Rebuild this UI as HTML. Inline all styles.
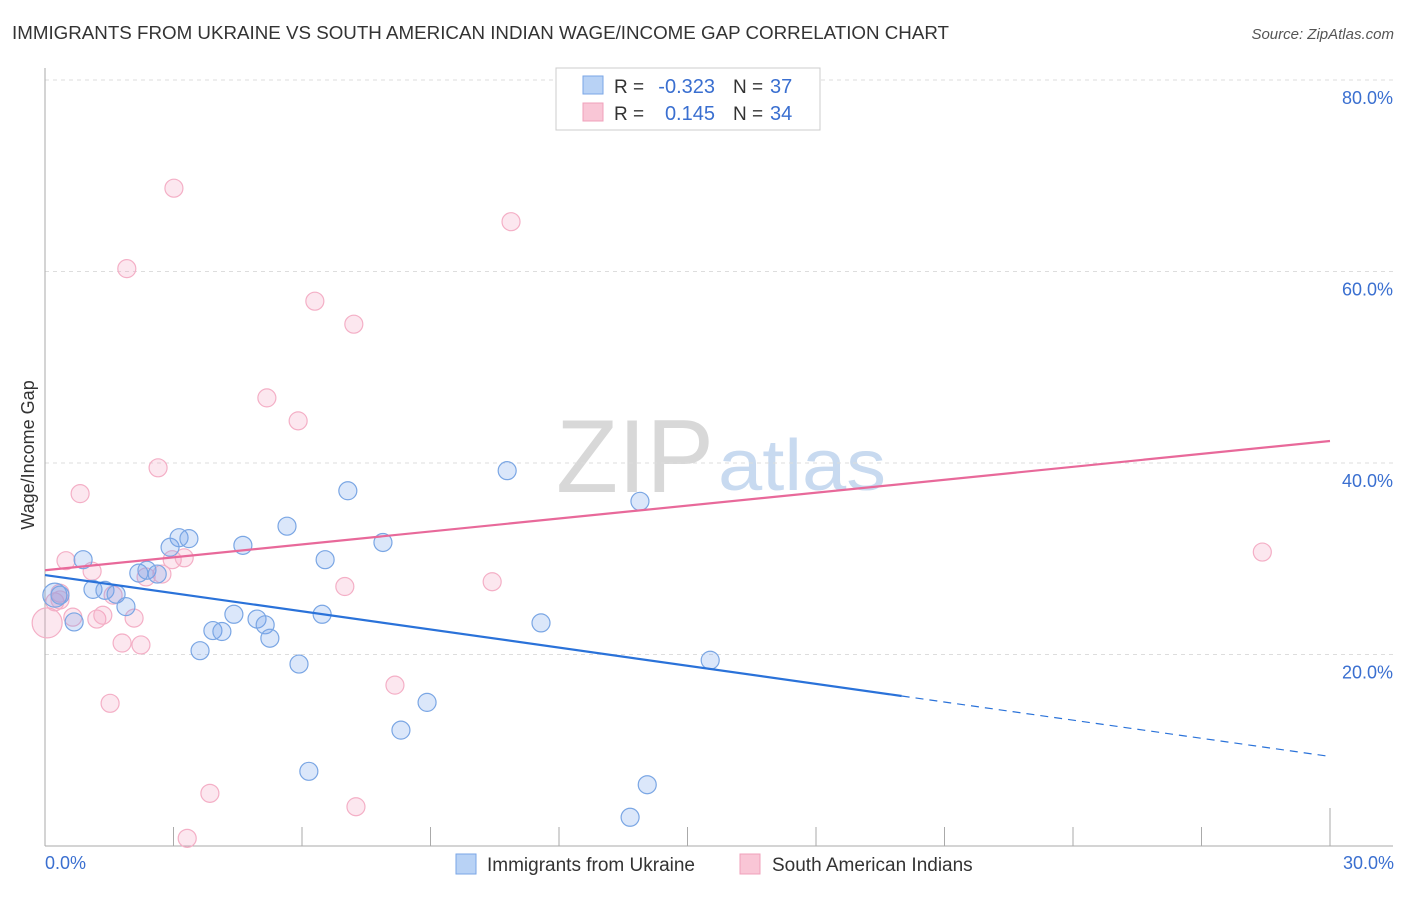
<!DOCTYPE html>
<html><head><meta charset="utf-8"><style>
body{margin:0;background:#fff;font-family:"Liberation Sans",sans-serif;}
svg text{font-family:"Liberation Sans",sans-serif;}
</style></head><body>
<svg width="1406" height="892">
<text x="12" y="39" font-size="18" fill="#333" textLength="937" lengthAdjust="spacingAndGlyphs">IMMIGRANTS FROM UKRAINE VS SOUTH AMERICAN INDIAN WAGE/INCOME GAP CORRELATION CHART</text>
<text x="1394" y="39" font-size="15" fill="#555" text-anchor="end" font-style="italic">Source: ZipAtlas.com</text>
<text x="714" y="492" font-size="104" fill="#d8d8d8" text-anchor="end" font-family="Liberation Serif" textLength="158" lengthAdjust="spacingAndGlyphs">ZIP</text>
<text x="718" y="490" font-size="72" fill="#c8daf0" textLength="168" lengthAdjust="spacingAndGlyphs">atlas</text>
<g id="grid"></g>
<g id="axes"></g>
<g id="marks"></g>
<text transform="translate(34,455) rotate(-90)" font-size="18" fill="#333" text-anchor="middle">Wage/Income Gap</text>
<text x="45" y="869" font-size="18" fill="#3a6fd0">0.0%</text>
<text x="1394" y="869" font-size="18" fill="#3a6fd0" text-anchor="end">30.0%</text>
<g>
<rect x="556" y="68" width="264" height="62" fill="#fff" stroke="#ccc"/>
<rect x="583" y="76" width="20" height="18" fill="#b8d2f5" stroke="#7aa6e6"/>
<rect x="583" y="103" width="20" height="18" fill="#f9c6d6" stroke="#f0a0bb"/>
<text x="614" y="93" font-size="19" fill="#333">R =</text>
<text x="715" y="93" font-size="20" fill="#3a6fd0" text-anchor="end">-0.323</text>
<text x="733" y="93" font-size="19" fill="#333">N =</text>
<text x="770" y="93" font-size="20" fill="#3a6fd0">37</text>
<text x="614" y="120" font-size="19" fill="#333">R =</text>
<text x="715" y="120" font-size="20" fill="#3a6fd0" text-anchor="end">0.145</text>
<text x="733" y="120" font-size="19" fill="#333">N =</text>
<text x="770" y="120" font-size="20" fill="#3a6fd0">34</text>
</g>
<g>
<rect x="456" y="854" width="20" height="20" fill="#b8d2f5" stroke="#7aa6e6"/>
<text x="487" y="871" font-size="19" fill="#333">Immigrants from Ukraine</text>
<rect x="740" y="854" width="20" height="20" fill="#f9c6d6" stroke="#f0a0bb"/>
<text x="772" y="871" font-size="19" fill="#333">South American Indians</text>
</g>
</svg>
<script>
const yTicks=[20,40,60,80];
const xTicks=[0,3,6,9,12,15,18,21,24,27,30];
const blueX=[0.23,0.35,0.89,0.68,1.12,1.40,1.66,1.89,2.19,2.38,2.62,2.92,3.13,3.36,3.62,3.92,4.13,4.41,4.62,4.95,5.14,5.25,5.65,5.93,6.16,6.47,6.54,7.07,7.89,8.31,8.92,10.79,11.58,13.66,13.89,14.06,15.53];
const blueY=[26.2,26.2,29.9,23.4,26.8,26.7,26.3,25.0,28.5,28.8,28.4,31.2,32.2,32.1,20.4,22.5,22.4,24.2,31.4,23.7,23.1,21.7,33.4,19.0,7.8,24.2,29.9,37.1,31.7,12.1,15.0,39.2,23.3,3.0,36.0,6.4,19.4];
const pinkX=[0.05,0.23,0.35,0.49,0.65,0.82,1.10,1.21,1.35,1.52,1.59,1.80,2.08,2.24,2.36,2.64,2.73,2.97,3.01,3.25,3.32,3.85,1.91,5.18,5.91,6.30,7.00,7.21,7.26,8.17,10.44,10.88,28.42,0.35];
const pinkY=[23.3,25.5,26.4,29.8,23.9,36.8,28.7,23.7,24.1,14.9,26.2,21.2,23.8,21.0,28.1,39.5,28.4,29.9,68.7,30.1,0.8,5.5,60.3,46.8,44.4,56.9,27.1,54.5,4.1,16.8,27.6,65.2,30.7,25.7];
const blueTrend=[28.3,-0.6316];
const blueSolidEnd=20.0;
const pinkTrend=[28.8,0.45];
const X=v=>45+v/30*1285, Y=v=>846-v/80*766;
const NS='http://www.w3.org/2000/svg';
function mk(p,t,a){const e=document.createElementNS(NS,t);for(const k in a)e.setAttribute(k,a[k]);p.appendChild(e);return e;}
const grid=document.getElementById('grid'),axes=document.getElementById('axes'),marks=document.getElementById('marks');
yTicks.forEach(t=>{
 const l=mk(grid,'line',{x1:45,x2:1393,y1:Y(t),y2:Y(t),stroke:'#ddd','stroke-dasharray':'4 4'});
 
 
 const tx=mk(grid,'text',{x:1393,y:Y(t)+24,'font-size':18,fill:'#3a6fd0','text-anchor':'end'});
 tx.textContent=t.toFixed(1)+'%';
 
 
});
mk(axes,'line',{x1:45,x2:45,y1:68,y2:846,stroke:'#aaa'});
mk(axes,'line',{x1:45,x2:1393,y1:846,y2:846,stroke:'#aaa'});
xTicks.forEach((t,i)=>{
 const l=mk(axes,'line',{x1:X(t),x2:X(t),y1:i==xTicks.length-1?808:827,y2:846,stroke:'#aaa'});
 
 
});
function dots(xs,ys,fill,stroke,name,big){
 xs.forEach((x,i)=>{
  const c=mk(marks,'circle',{cx:X(x),cy:Y(ys[i]),r:i===0?big:9,fill:fill,stroke:stroke,'stroke-width':1.2});
  
  
 });
}
dots(pinkX,pinkY,'rgba(244,160,190,0.25)','#f4afc6','pink-point',15);
dots(blueX,blueY,'rgba(110,160,235,0.25)','#7aa6e4','blue-point',12);
const tb=v=>blueTrend[0]+blueTrend[1]*v, tp=v=>pinkTrend[0]+pinkTrend[1]*v;
let l=mk(marks,'line',{x1:X(0),y1:Y(tb(0)),x2:X(blueSolidEnd),y2:Y(tb(blueSolidEnd)),stroke:'#2a72d9','stroke-width':2.2});


l=mk(marks,'line',{x1:X(blueSolidEnd),y1:Y(tb(blueSolidEnd)),x2:X(30),y2:Y(tb(30)),stroke:'#2a72d9','stroke-width':1.2,'stroke-dasharray':'8 6'});


l=mk(marks,'line',{x1:X(0),y1:Y(tp(0)),x2:X(30),y2:Y(tp(30)),stroke:'#e8699a','stroke-width':2.2});


</script>
</body></html>
